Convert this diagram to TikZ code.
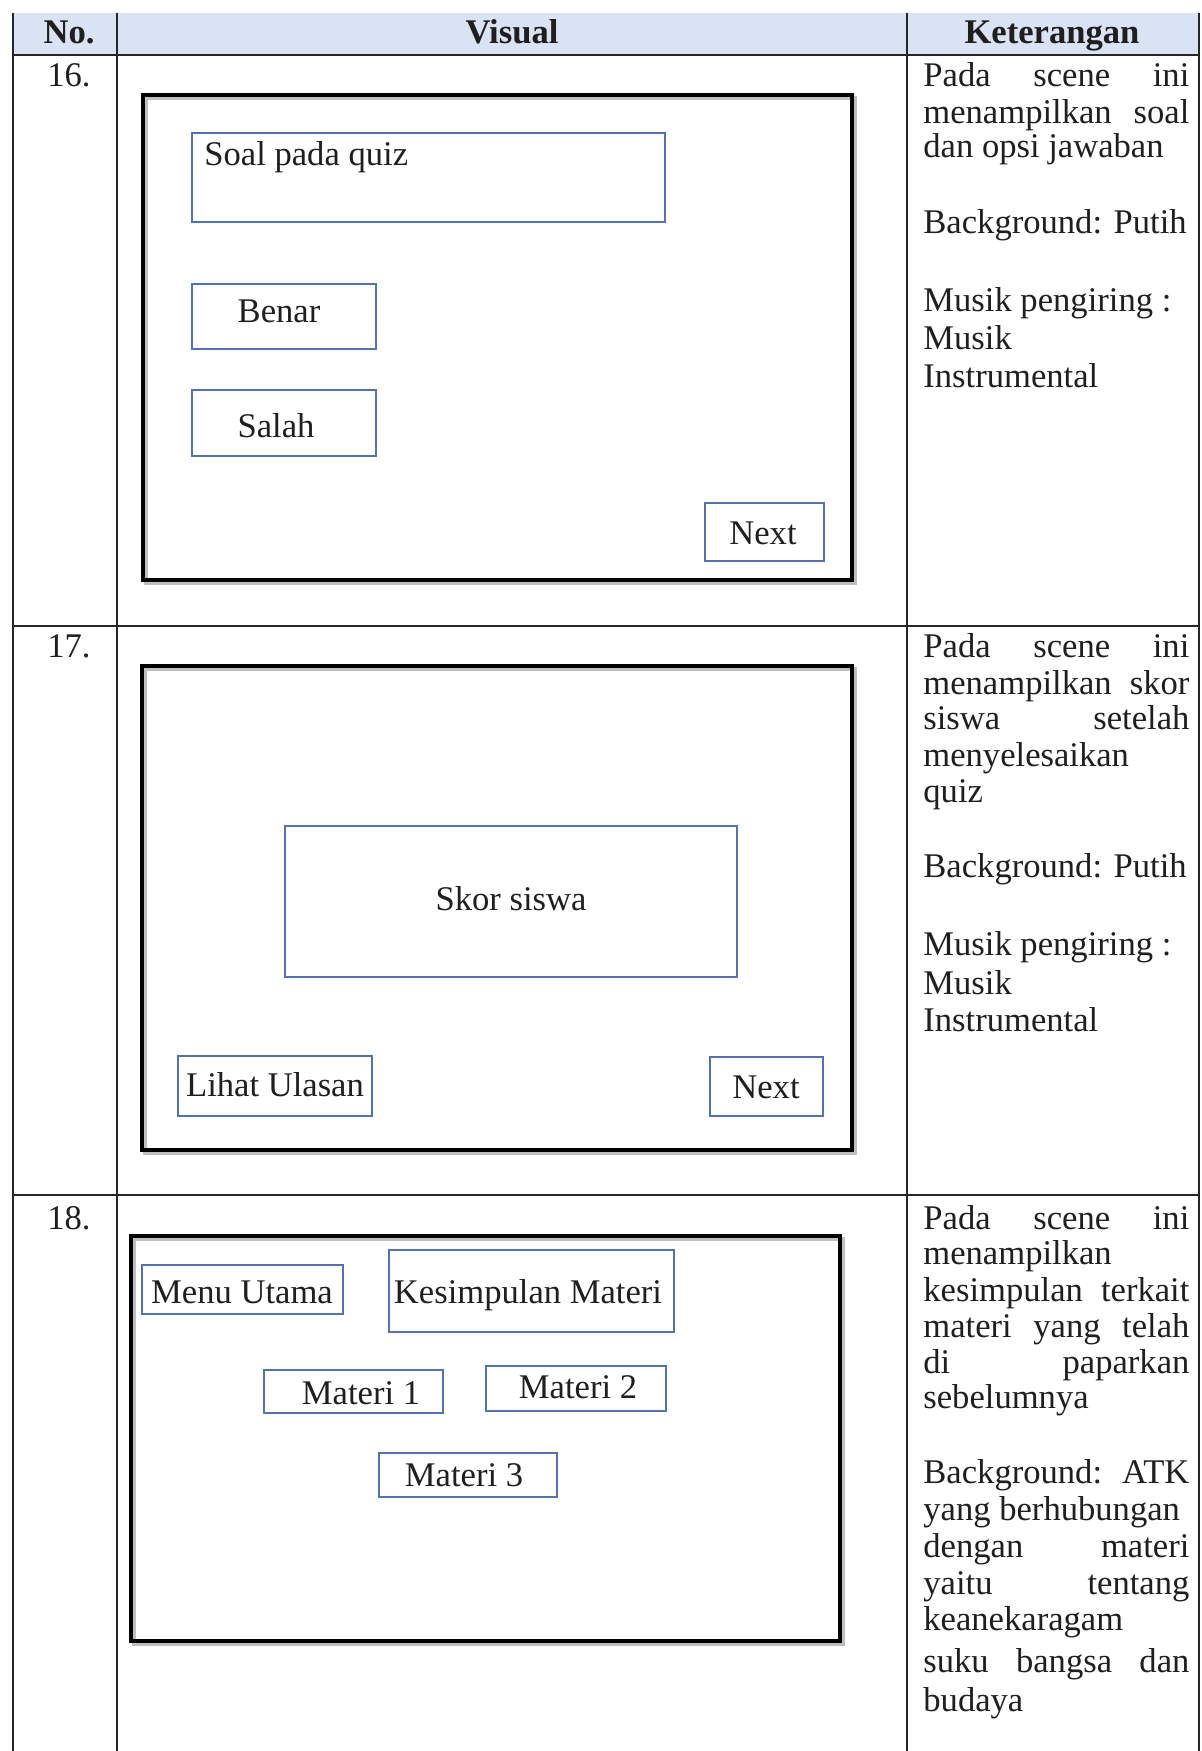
\documentclass[tikz,border=0pt]{standalone}
\usepackage{fontspec}
\setmainfont{Liberation Serif}
\usetikzlibrary{fit}
\newcommand\jline[1]{\makebox[133pt][s]{#1}}
\definecolor{hdrblue}{RGB}{218,227,243}
\definecolor{btnblue}{RGB}{84,114,178}
\tikzset{
  tbl/.style={line width=0.7pt, draw=black!85},
  frm/.style={line width=2pt, draw=black},
  frmshadow/.style={line width=2pt, draw=black!25},
  btn/.style={draw=btnblue, line width=0.8pt, inner sep=0pt},
  lbl/.style={font=\fontsize{17.3}{18.5}\selectfont, inner sep=0pt, text=black!88},
  hdr/.style={lbl, font=\fontsize{17.3}{18.5}\selectfont\bfseries},
  txt/.style={lbl, anchor=base west},
}
\begin{document}
\begin{tikzpicture}[x=0.5pt,y=-0.5pt]
\useasboundingbox[fill=white] (0,0) rectangle (1202,1751);
% table
\fill[hdrblue] (13,13) rectangle (1199,55);
\draw[tbl] (13,55) -- (1199,55);
\draw[tbl] (13,626) -- (1199,626);
\draw[tbl] (13,1195) -- (1199,1195);
\draw[tbl] (13,13) -- (13,1751);
\draw[tbl] (117,13) -- (117,1751);
\draw[tbl] (907,13) -- (907,1751);
\draw[tbl] (1199,13) -- (1199,1751);
% header
\node[hdr, anchor=base] (hno) at (69,43) {No.};
\node[hdr, anchor=base] (hvis) at (512,43) {Visual};
\node[hdr, anchor=base] (hket) at (1052,43) {Keterangan};
% numbers
\node[lbl, anchor=base] (n16) at (69,86) {16.};
\node[lbl, anchor=base] (n17) at (69,657) {17.};
\node[lbl, anchor=base] (n18) at (69,1229) {18.};

% ===== scene 16 =====
\draw[frmshadow] (146,98) rectangle (855,583);
\draw[frm] (143,95) rectangle (852,580);
\node[btn, fit={(192,133) (665,222)}] (soal) {};
\node[txt] (soalt) at (204,165) {Soal pada quiz};
\node[btn, fit={(192,284) (376,349)}] (benar) {};
\node[lbl, anchor=base] (benart) at (279,322) {Benar};
\node[btn, fit={(192,390) (376,456)}] (salah) {};
\node[lbl, anchor=base] (salaht) at (276,437) {Salah};
\node[btn, fit={(705,503) (824,561)}] (next16) {};
\node[lbl, anchor=base] (next16t) at (763,544) {Next};

% ===== scene 17 =====
\draw[frmshadow] (145,669) rectangle (855,1153);
\draw[frm] (142,666) rectangle (852,1150);
\node[btn, fit={(285,826) (737,977)}] (skor) {};
\node[lbl, anchor=base] (skort) at (511,910) {Skor siswa};
\node[btn, fit={(178,1056) (372,1116)}] (ulasan) {};
\node[lbl, anchor=base] (ulasant) at (275,1096) {Lihat Ulasan};
\node[btn, fit={(710,1057) (823,1116)}] (next17) {};
\node[lbl, anchor=base] (next17t) at (766,1098) {Next};

% ===== scene 18 =====
\draw[frmshadow] (134,1239) rectangle (843,1644);
\draw[frm] (131,1236) rectangle (840,1641);
\node[btn, fit={(142,1265) (343,1314)}] (menu) {};
\node[lbl, anchor=base] (menut) at (242,1303) {Menu Utama};
\node[btn, fit={(389,1250) (674,1332)}] (kesim) {};
\node[lbl, anchor=base] (kesimt) at (528,1303) {Kesimpulan Materi};
\node[btn, fit={(264,1370) (443,1413)}] (m1) {};
\node[lbl, anchor=base] (m1t) at (361,1404) {Materi 1};
\node[btn, fit={(486,1366) (666,1411)}] (m2) {};
\node[lbl, anchor=base] (m2t) at (578,1398) {Materi 2};
\node[btn, fit={(379,1453) (557,1497)}] (m3) {};
\node[lbl, anchor=base] (m3t) at (464,1486) {Materi 3};

% ===== keterangan 16 =====
\node[txt] (k16a) at (923,86) {\jline{Pada scene ini}};
\node[txt] (k16b) at (923,123) {\jline{menampilkan soal}};
\node[txt] (k16c) at (923,157) {dan opsi jawaban};
\node[txt] (k16d) at (923,233) {Background: Putih};
\node[txt] (k16e) at (923,311) {Musik pengiring :};
\node[txt] (k16f) at (923,349) {Musik};
\node[txt] (k16g) at (923,387) {Instrumental};

% ===== keterangan 17 =====
\node[txt] (k17a) at (923,657) {\jline{Pada scene ini}};
\node[txt] (k17b) at (923,694) {\jline{menampilkan skor}};
\node[txt] (k17c) at (923,729) {\jline{siswa setelah}};
\node[txt] (k17d) at (923,766) {menyelesaikan};
\node[txt] (k17e) at (923,802) {quiz};
\node[txt] (k17f) at (923,877) {Background: Putih};
\node[txt] (k17g) at (923,955) {Musik pengiring :};
\node[txt] (k17h) at (923,994) {Musik};
\node[txt] (k17i) at (923,1031) {Instrumental};

% ===== keterangan 18 =====
\node[txt] (k18a) at (923,1229) {\jline{Pada scene ini}};
\node[txt] (k18b) at (923,1264) {menampilkan};
\node[txt] (k18c) at (923,1301) {\jline{kesimpulan terkait}};
\node[txt] (k18d) at (923,1337) {\jline{materi yang telah}};
\node[txt] (k18e) at (923,1373) {\jline{di paparkan}};
\node[txt] (k18f) at (923,1408) {sebelumnya};
\node[txt] (k18g) at (923,1483) {\jline{Background: ATK}};
\node[txt] (k18h) at (923,1520) {yang berhubungan};
\node[txt] (k18i) at (923,1557) {\jline{dengan materi}};
\node[txt] (k18j) at (923,1594) {\jline{yaitu tentang}};
\node[txt] (k18k) at (923,1630) {keanekaragam};
\node[txt] (k18l) at (923,1672) {\jline{suku bangsa dan}};
\node[txt] (k18m) at (923,1711) {budaya};
\end{tikzpicture}
\end{document}
